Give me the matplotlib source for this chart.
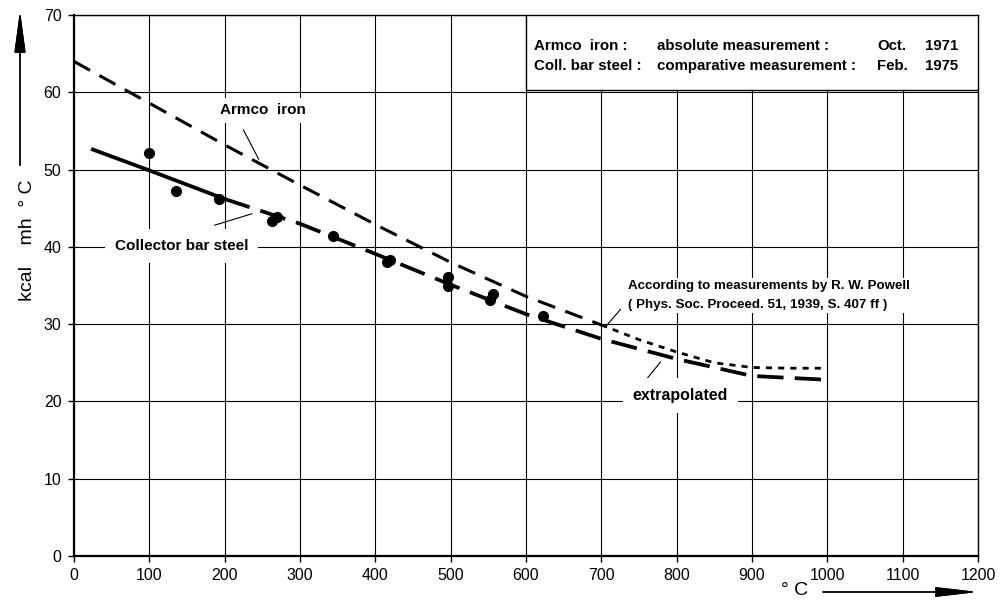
import numpy as np
import matplotlib.pyplot as plt
from matplotlib.patches import Rectangle

# ---- data ----
# Armco iron, absolute measurement (long dashes)
armco_x = [0, 100, 200, 300, 400, 500, 600, 700]
armco_y = [64.0, 58.6, 53.2, 48.0, 42.9, 38.0, 33.6, 29.9]

# Powell continuation (short dashes)
powell_x = [700, 750, 800, 850, 900, 950, 1000]
powell_y = [29.9, 28.0, 26.4, 25.0, 24.4, 24.3, 24.3]

# Collector bar steel fitted curve
steel_x = [25, 100, 200, 300, 400, 500, 600, 700, 800, 900, 1000]
steel_y = [52.6, 49.9, 46.2, 43.0, 39.1, 35.1, 31.3, 28.1, 25.5, 23.3, 22.8]

# Collector bar steel measured points
pts_x = [100, 136, 192, 263, 269, 344, 415, 420, 497, 497, 552, 556, 623]
pts_y = [52.1, 47.2, 46.2, 43.3, 43.9, 41.4, 38.0, 38.3, 36.1, 34.9, 33.1, 33.9, 31.0]

x_ticks = list(range(0, 1201, 100))
y_ticks = list(range(0, 71, 10))

plt.rcParams['font.family'] = ['Liberation Sans', 'DejaVu Sans']

fig = plt.figure(figsize=(10, 6.01), dpi=100)
ax = fig.add_axes([0.074, 0.0749, 0.904, 0.900])

ax.set_xlim(0, 1200)
ax.set_ylim(0, 70)
ax.set_xticks(x_ticks)
ax.set_yticks(y_ticks)
ax.tick_params(labelsize=11.5, length=4, width=1, pad=5)
ax.grid(True, color='black', lw=0.8)
ax.set_axisbelow(True)
for s in ['left', 'bottom']:
    ax.spines[s].set_linewidth(1.6)
for s in ['top', 'right']:
    ax.spines[s].set_linewidth(1.0)

# curves
ax.plot(armco_x, armco_y, color='black', lw=2.2, ls=(0, (6, 3.5)), zorder=3)
ax.plot(powell_x, powell_y, color='black', lw=2.0, ls=(0, (2.2, 2.2)), zorder=3)
ax.plot(steel_x[:3], steel_y[:3], color='black', lw=2.7, zorder=3)
ax.plot(steel_x[2:], steel_y[2:], color='black', lw=2.7, ls=(0, (7, 3)), zorder=3)
ax.plot(pts_x, pts_y, 'o', color='black', ms=7, zorder=4)

# labels with white background
ax.text(251, 57.7, 'Armco  iron', weight='bold', fontsize=11,
        ha='center', va='center', bbox=dict(facecolor='white', edgecolor='none', pad=4), zorder=5)
ax.annotate('', xy=(247, 51.0), xytext=(223, 55.5),
            arrowprops=dict(arrowstyle='-', lw=0.8, color='black'))

ax.text(143, 40.1, 'Collector bar steel', weight='bold', fontsize=11,
        ha='center', va='center', bbox=dict(facecolor='white', edgecolor='none', pad=7), zorder=5)
ax.annotate('', xy=(240, 44.4), xytext=(183, 42.7),
            arrowprops=dict(arrowstyle='-', lw=0.8, color='black'))

ax.text(736, 33.7, 'According to measurements by R. W. Powell\n'
        '( Phys. Soc. Proceed. 51, 1939, S. 407 ff )',
        weight='bold', fontsize=9.6, ha='left', va='center',
        linespacing=1.85, bbox=dict(facecolor='white', edgecolor='none', pad=1), zorder=5)
ax.annotate('', xy=(705, 29.6), xytext=(728, 32.2),
            arrowprops=dict(arrowstyle='-', lw=0.8, color='black'))

ax.text(805, 20.8, 'extrapolated', weight='bold', fontsize=11.5,
        ha='center', va='center', bbox=dict(facecolor='white', edgecolor='none', pad=7), zorder=5)
ax.annotate('', xy=(781, 25.4), xytext=(756, 22.4),
            arrowprops=dict(arrowstyle='-', lw=0.8, color='black'))

# top right info box
ax.add_patch(Rectangle((600, 60.3), 600, 9.7, facecolor='white', edgecolor='black',
                       lw=1.0, zorder=5))
rows = [('Armco  iron :', 'absolute measurement :', 'Oct.', '1971'),
        ('Coll. bar steel :', 'comparative measurement :', 'Feb.', '1975')]
row_y = [66.0, 63.4]
col_x = [610, 774, 1066, 1130]
for r, yy in zip(rows, row_y):
    for txt, xx in zip(r, col_x):
        ax.text(xx, yy, txt, weight='bold', fontsize=10.8,
                ha='left', va='center', zorder=6)

# axis labels with arrows
fig.text(0.028, 0.60, 'kcal    mh  ° C', rotation=90, fontsize=14,
         ha='center', va='center')
fig.add_artist(plt.annotate('', xy=(0.020, 0.982), xytext=(0.020, 0.725),
                            xycoords='figure fraction', textcoords='figure fraction',
                            arrowprops=dict(arrowstyle='-|>,head_length=2.6,head_width=0.35',
                                            lw=1.0, color='black', shrinkA=0, shrinkB=0)))
fig.text(0.795, 0.018, '° C', fontsize=14, ha='center', va='center')
fig.add_artist(plt.annotate('', xy=(0.978, 0.015), xytext=(0.823, 0.015),
                            xycoords='figure fraction', textcoords='figure fraction',
                            arrowprops=dict(arrowstyle='-|>,head_length=2.6,head_width=0.3',
                                            lw=1.0, color='black', shrinkA=0, shrinkB=0)))

fig.savefig('out.png', dpi=100)
